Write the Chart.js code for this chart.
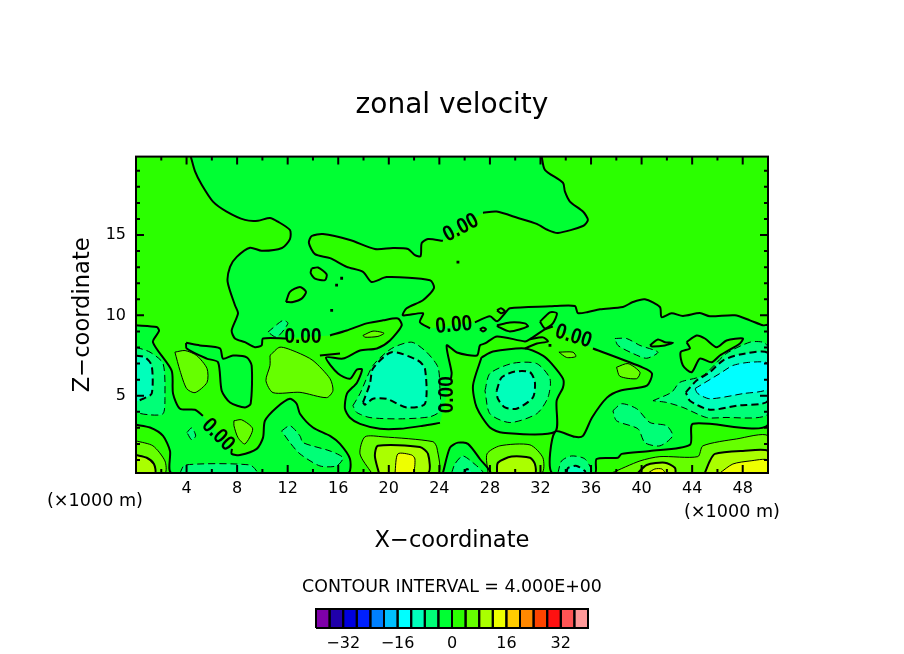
<!DOCTYPE html>
<html>
<head>
<meta charset="utf-8">
<title>zonal velocity</title>
<script src="https://cdn.jsdelivr.net/npm/chart.js@4/dist/chart.umd.js"></script>
<style>
  body { margin: 0; background: #fff; }
  #wrap { position: relative; width: 904px; height: 654px; overflow: hidden; }
  canvas { position: absolute; left: 0; }
  .unit { position: absolute; font: 17.6px "DejaVu Sans"; color: #000; white-space: nowrap; }
</style>
</head>
<body>
<div id="wrap">
  <canvas id="plot" width="904" height="654" style="top:0"></canvas>
  <canvas id="bar" width="904" height="84" style="top:570px"></canvas>
  <div class="unit" style="left:47px;top:490px">(×1000 m)</div>
  <div class="unit" style="left:684px;top:501px">(×1000 m)</div>
</div>
<script>
//// axis values
const xRange = [0, 50];
const zRange = [0.19, 19.88];
const xTickValues = [4, 8, 12, 16, 20, 24, 28, 32, 36, 40, 44, 48];
const xMinorTicks = [2, 6, 10, 14, 18, 22, 26, 30, 34, 38, 42, 46, 50];
const zTickValues = [5, 10, 15];
const zMinorTicks = [1, 2, 3, 4, 6, 7, 8, 9, 11, 12, 13, 14, 16, 17, 18, 19];

//// colour bar
const legendLevels = [-40, -36, -32, -28, -24, -20, -16, -12, -8, -4, 0, 4, 8, 12, 16, 20, 24, 28, 32, 36];
const legendColors = ['#7F00AA', '#2000AA', '#0000DD', '#0020FF', '#0080FF', '#00C0FF', '#00FFFF', '#00FFBB', '#00FF77', '#00FF33',
  '#2BFF00', '#66FF00', '#AAFF00', '#EEFF00', '#FFCC00', '#FF8800', '#FF4400', '#FF1111', '#FF5555', '#FF9999'];
const legendTickValues = [-32, -16, 0, 16, 32];

//// contours, [x, z] in km, null = gap for a line label
const zeroTop = [[4.33,19.9],[4.67,18.96],[5.2,18.13],[6.09,17.08],[7.17,16.46],[8.62,15.94],[9.65,15.89],[10.6,16.06],[11.23,15.83],[12.18,15.31],[12.18,14.75],[11.55,14.19],[9.94,14.02],[9.02,14.21],[7.97,13.64],[7.44,13.02],[7.25,12.08],[7.83,10.63],[8.07,10.13],[7.57,9.06],[7.83,8.56],[8.62,8.33],[9.41,8.02],[9.94,8.13],[10.05,8.56],[11.94,8.56],null,
  [15.35,8.75],[16.67,9.06],[18.25,9.5],[19.54,9.69],[20.72,9.81],[21.02,9.38],[20.09,8.44],[19.06,7.94],[17.72,7.81],[16.37,7.31],[15.03,7.38],[15.98,6.38],[16.93,6.06],[17.48,6.63],[17.88,6.63],[17.48,5.81],[16.69,5.13],[16.53,4.19],[16.93,3.63],[17.72,3.25],[19.3,2.94],[20.88,2.94],[22.7,3.13],[24.05,3.31],null,
  [24.92,6.06],[24.97,6.44],[24.58,8.13],[25.39,7.69],[26.97,7.5],[27.21,8.13],[27.61,8.25],[28.56,8.69],[30.77,8.38],[31.17,8.52],[32.35,9.13],[32.98,9.31],null,
  [36.15,7.94],[40.1,6.75],[40.82,6.38],[40.42,5.63],[38.28,5.31],[37.26,4.88],[36.07,3.63],[35.36,2.5],[34.72,2.44],[33.14,2.75],[32.91,0.19],[36.31,0.19],[36.44,1.06],[38.13,1.14],[38.42,1.38],[40.66,1.56],[43.82,1.94],[44.06,3.25],[50,3.19],[50,9.38],[49.6,9.38],[48.57,9.69],[47.38,10],[45.4,9.94],[44.61,10.14],[43.27,9.96],[42.37,10.13],[41.58,9.89],[41.45,10.52],[40.26,11],[39.31,10.83],[38.52,10.52],[36.7,10.38],[35.75,10.21],[34.96,10.14],[34.72,10.58],[33.14,10.58],[32.75,10.56],[29.58,10.44],[29.19,10.13],[28.56,9.63],[28,9.94],[26.81,9.56],null,
  [23.26,9.19],[22.46,9.58],[22.7,10.13],[21.12,10],[21.41,10.44],[22.7,10.94],[23.57,11.69],[23.26,12.19],[19.83,12.38],[18.64,12.08],[17.96,12.71],[16.67,13.02],[15.35,13.56],[14.16,13.81],[13.68,14.5],[13.9,14.94],[14.79,15.06],[16.93,14.69],[18.9,14.13],[20.33,14.19],[21.52,14.13],[22.07,13.75],[22.52,13.69],[22.6,14.5],[23.1,14.75],[24.28,14.64],null,
  [27.45,16.39],[28.53,16.46],[30.22,16.06],[31.7,15.69],[32.59,15.31],[33.38,15.13],[35.36,15.56],[35.75,15.94],[35.36,16.46],[34.33,17.08],[33.93,17.71],[33.78,18.25],[32.35,19.06],[32.09,19.9]];
const zeroLeft = [[0,9.38],[1.64,9.27],[1.82,9.02],[1.34,8.33],[2.82,6.56],[2.93,5.13],[3.48,4.19],[4.67,4.13],[5.3,3.75],null,
  [7.59,1.69],[7.57,1.38],[8.23,1.31],[9.55,1.69],[10.05,2.39],[10.2,3.44],[11.13,4.27],[12.18,4.81],[12.71,4.5],[12.97,3.88],[14,3.02],[15.35,2.5],[16.14,2],[16.93,1.06],[16.77,0.19],[2.82,0.19],[2.69,1.56],[2.14,2.5],[1.11,3.02],[0,3.19]];
const zeroBox = [[3.96,8.29],[5.06,8.13],[6.64,7.94],[6.88,7.31],[7.67,7.5],[8.76,7.39],[9.15,6.88],[9.07,4.5],[8.62,4.27],[7.44,4.58],[6.78,5.31],[6.49,7.08],[5.59,7.31],[4.01,7.94]];
const zeroCircle = [[27.34,7.39],[28.24,7.75],[30.77,7.94],[32.19,7.5],[32.88,7],[33.78,6.06],[33.78,5.52],[33.28,4.69],[33.14,2.75],[29.03,2.69],[28,3.02],[26.95,4.27],[26.66,5.63]];
const zeroBottom = [[24.28,0.19],[24.84,1.77],[25.47,2.08],[26.26,2],[27.21,1.06],[28,0.19]];
const zeroIsleA = [[13.9,12.92],[14.4,12.98],[15.08,12.56],[14.95,12.19],[14.16,12.29],[13.82,12.64]];
const zeroIsleB = [[11.87,10.83],[12.18,11.46],[12.97,11.77],[13.45,11.46],[13.11,11.04],[12.42,10.83]];
const zeroIsleC = [[43.56,8.33],[44.35,8.75],[45.01,8.56],[45.93,8.02],[46.72,8.44],[48.01,8.56],[47.78,8.25],[46.19,7.5],[45.54,7.08],[44.61,7.31],[43.96,6.46],[43.27,6.88],[43.09,7.71],[43.82,7.94]];
const zeroIsleD = [[40.66,8.13],[41.29,8.5],[41.84,8.33],[42.48,8.29],[41.84,8.13],[40.89,8.06]];
const zeroIsleE = [[31.96,9.61],[32.75,10.19],[33.3,10.13],[32.98,9.5],[32.35,9.19]];
const zeroIsleF = [[28.56,9.38],[29.58,9.56],[30.77,9.5],[31,9.31],[29.58,9],[28.64,9.3]];
const zeroIsleG = [[28.56,10.31],[28.87,10.44],[29.19,10.25],[28.87,10.13]];
const zeroIsleH = [[27.21,9.13],[27.45,9.25],[27.69,9.13],[27.45,9]];
const zeroSpurA = [[31.17,8.52],[32.19,8.63],[32.59,8.38],[31.72,8.25],[30.77,7.94]];
const zeroSpurB = [[14.55,7.5],[16.14,7.63]];
const zeroDots = [[16.27,12.31],[15.87,11.88],[15.48,10.31],[25.47,13.31],[32.75,8.13]];

const posA = [[3.08,7.71],[3.88,7.81],[4.8,7.5],[5.62,6.69],[5.62,5.83],[4.67,5.19],[4.01,5.44],[3.48,6.56]];
const posB = [[10.6,7.5],[11.39,8.02],[12.71,7.71],[14,7.19],[15.35,6.06],[15.58,5.31],[15.08,4.88],[12.97,5.21],[10.84,5.19],[10.28,5.94],[10.6,6.88]];
const posC = [[7.75,3.44],[8.36,3.5],[9.23,2.94],[8.62,2],[8.07,2.39],[7.75,3.13]];
const posD = [[17.96,8.75],[18.75,9.02],[19.62,8.89],[19.14,8.69],[18.11,8.64]];
const posE = [[38.02,6.77],[38.92,7],[39.87,6.46],[39.61,6.06],[38.28,6.21]];
const posF = [[33.46,7.71],[34.57,7.71],[34.8,7.44],[34.07,7.38]];
const cornerFour = [[0,2.19],[1.34,1.88],[2.29,0.94],[2.29,0.19],[0,0.19]];
const cornerEight = [[0,1.31],[0.85,1.14],[1.42,0.75],[1.5,0.19],[0,0.19]];
const centerFour = [[18.64,0.19],[17.72,1.38],[18.11,2.44],[19.54,2.44],[23.49,2.14],[23.81,1.75],[23.89,0.19]];
const centerEight = [[19.22,0.19],[18.9,1.25],[19.14,1.88],[22.46,1.81],[23.1,1.38],[23.1,0.19]];
const centerTwelve = [[20.49,0.19],[20.72,1.38],[21.81,1.31],[22.07,1.06],[21.89,0.19]];
const midFour = [[27.85,0.19],[27.77,1.38],[28.79,1.88],[31.17,1.94],[32.19,1.14],[32.09,0.19]];
const midEight = [[28.56,0.19],[28.63,0.83],[29.72,1.21],[31.17,1.14],[31.56,0.75],[31.56,0.19]];
const rightFour = [[37.63,0.19],[39.87,0.94],[41.45,1.21],[44.45,1.21],[44.85,1.88],[47.52,2.31],[50,2.5],[50,0.19]];
const rightEight = [[45,0.19],[45.4,0.94],[45.8,1.38],[48.01,1.56],[50,1.56],[50,0.19]];
const rightTwelve = [[46.19,0.19],[47.22,0.75],[48.57,0.94],[50,1],[50,0.19]];
const knobEight = [[39.71,0.19],[40.4,0.69],[41.84,0.83],[42.63,0.52],[42.63,0.19]];
const knobTwelve = [[40.5,0.19],[41.05,0.44],[41.6,0.44],[41.84,0.19]];

const negLeftFour = [[0,8.02],[1.11,7.71],[2.14,7],[2.29,4.89],[2.14,3.88],[1.11,3.81],[0,4.06]];
const negLeftEight = [[0,7.5],[0.71,7.39],[1.24,6.88],[1.24,5.13],[0.55,4.81],[0,4.69]];
const negCoreFour = [[17.16,4.38],[17.72,5.13],[18.75,6.88],[20.23,7.94],[21.81,8.33],[22.99,7.71],[23.89,6.77],[24.05,5.31],[24.05,4.06],[23.26,3.69],[20.88,3.56],[18.51,3.64],[17.46,3.96]];
const negCoreEight = [[17.96,4.58],[18.51,5.75],[18.75,6.69],[20.23,7.71],[22.31,7.19],[22.86,6.69],[22.86,4.5],[21.41,4.27],[19.83,4.81],[18.75,4.81],[18.11,4.44]];
const negRingFour = [[27.61,5.31],[28,6.38],[29.82,7.02],[31.7,7],[32.75,6.06],[32.59,4.89],[31.7,3.88],[29.58,3.33],[28,3.88]];
const negRingEight = [[28.53,5.31],[28.93,6.14],[29.98,6.5],[31.17,6.46],[31.56,5.83],[31.4,4.89],[30.11,4.19],[29.19,4.27],[28.63,4.81]];
const negStripFour = [[37.89,8.56],[38.81,8.56],[39.87,8.13],[41.29,7.71],[40.4,7.33],[39.31,7.63],[38.13,8.13]];
const negBoneFour = [[37.73,4.06],[38.42,4.5],[39.61,4.19],[40.66,3.33],[41.98,3.13],[42.45,2.5],[41.45,1.88],[40.26,2.08],[39.71,2.94],[38.02,3.44]];
const negEastFour = [[40.9,4.69],[42.37,5.21],[43.03,5.83],[44.85,6.25],[46.72,7.63],[48.57,8.33],[49.6,8.33],[50,8.02],[50,3.88],[46.43,3.64],[45.14,3.64],[43.27,4.27],[41.98,4.58]];
const negEastEight = [[43.5,5.21],[44.35,5.94],[45.4,6.46],[46.43,7.19],[47.78,7.56],[50,7.64],[50,4.69],[47.52,4.38],[45.4,4.13],[43.82,4.69]];
const negEastTwelve = [[44.22,5.44],[46.19,6.38],[47.22,6.88],[48.57,7.08],[50,7],[50,5.44],[48.01,5.13],[45.4,4.81],[44.45,5.13]];
const negLowFour = [[11.52,2.81],[12.18,3.13],[12.97,2.5],[13.21,2.08],[15.35,1.56],[16.37,1.14],[15.87,0.63],[14.55,0.63],[12.97,1.38],[12.18,2.08]];
const negFloorFour = [[3.48,0.19],[3.88,0.69],[9.02,0.69],[9.55,0.19]];
const negDotFour = [[4.03,2.71],[4.41,3],[4.72,2.5],[4.41,2.25]];
const negFlakeFour = [[10.44,8.96],[11.63,9.69],[12.02,9.5],[11.13,8.64]];
const negPeakFour = [[24.97,0.19],[25.23,0.75],[25.84,1.25],[26.66,0.83],[27.45,0.19]];
const negPeakEight = [[25.95,0.19],[26.18,0.44],[26.58,0.19]];
const negFootFour = [[33.38,0.19],[33.67,0.94],[34.46,1.25],[35.52,1.06],[36.05,0.19]];
const negFootEight = [[34.07,0.19],[34.17,0.5],[34.86,0.63],[35.52,0.31],[35.52,0.19]];

//// "0.00" labels on the zero line
const labelText = '0.00';
const labelX = [13.21, 25.71, 25.15, 34.6, 24.6, 6.49];
const labelZ = [8.63, 15.44, 9.38, 8.69, 5.06, 2.56];
const labelAngle = [0, -28, -5, 17, -90, 45];

//// drawing table: points, fill level, line width, dashed
const cMinus0 = '#00FF33', cZero = '#2BFF00', cFour = '#66FF00', cEight = '#AAFF00', cTwelve = '#EEFF00';
const cMinus4 = '#00FF77', cMinus8 = '#00FFBB', cMinus12 = '#00FFFF';
const contourTable = [
  [zeroTop, cMinus0, 2, false], [zeroLeft, cMinus0, 2, false], [zeroBox, cMinus0, 2, false],
  [zeroCircle, cMinus0, 2, false], [zeroBottom, cMinus0, 2, false],
  [zeroIsleA, cZero, 2, false], [zeroIsleB, cZero, 2, false], [zeroIsleC, cZero, 2, false], [zeroIsleD, cZero, 2, false],
  [zeroIsleE, cZero, 2, false], [zeroIsleF, cZero, 2, false], [zeroIsleG, cZero, 2, false], [zeroIsleH, cZero, 2, false],
  [zeroSpurA, null, 2, false], [zeroSpurB, null, 2, false],
  [posA, cFour, 1, false], [posB, cFour, 1, false], [posC, cFour, 1, false], [posD, cFour, 1, false], [posE, cFour, 1, false], [posF, cFour, 1, false],
  [cornerFour, cFour, 1, false], [cornerEight, cEight, 2, false],
  [centerFour, cFour, 1, false], [centerEight, cEight, 2, false], [centerTwelve, cTwelve, 1, false],
  [midFour, cFour, 1, false], [midEight, cEight, 2, false],
  [rightFour, cFour, 1, false], [rightEight, cEight, 2, false], [rightTwelve, cTwelve, 1, false],
  [knobEight, cEight, 2, false], [knobTwelve, cTwelve, 1, false],
  [negLeftFour, cMinus4, 1, true], [negLeftEight, cMinus8, 2, true],
  [negCoreFour, cMinus4, 1, true], [negCoreEight, cMinus8, 2, true],
  [negRingFour, cMinus4, 1, true], [negRingEight, cMinus8, 2, true],
  [negStripFour, cMinus4, 1, true], [negBoneFour, cMinus4, 1, true],
  [negEastFour, cMinus4, 1, true], [negEastEight, cMinus8, 2, true], [negEastTwelve, cMinus12, 1, true],
  [negLowFour, cMinus4, 1, true], [negFloorFour, cMinus4, 1, true], [negDotFour, cMinus4, 1, true], [negFlakeFour, cMinus4, 1, true],
  [negPeakFour, cMinus4, 1, true], [negPeakEight, cMinus8, 2, true],
  [negFootFour, cMinus4, 1, true], [negFootEight, cMinus8, 2, true]
];

const FONT = 'DejaVu Sans';
Chart.defaults.color = '#000';
Chart.defaults.font.family = FONT;

function toPoints(pts, closed) {
  const out = pts.map(p => p ? { x: p[0], y: p[1] } : { x: null, y: null });
  if (closed) out.push({ x: pts[0][0], y: pts[0][1] });
  return out;
}

// fills each closed contour in table order, under all the lines,
// following the same curve control points the line element uses
const areaFill = {
  id: 'areaFill',
  beforeDatasetsDraw(chart) {
    const { ctx, chartArea: a } = chart;
    ctx.save();
    ctx.beginPath();
    ctx.rect(a.left, a.top, a.right - a.left, a.bottom - a.top);
    ctx.clip();
    if (chart.options.plugins.areaFill.base) {
      ctx.fillStyle = chart.options.plugins.areaFill.base;
      ctx.fillRect(a.left, a.top, a.right - a.left, a.bottom - a.top);
    }
    chart.data.datasets.forEach((ds, i) => {
      if (!ds.areaColor) return;
      ctx.beginPath();
      let prev = null, started = false;
      chart.getDatasetMeta(i).data.forEach(pt => {
        if (pt.skip) { prev = null; return; }
        if (!started) ctx.moveTo(pt.x, pt.y);
        else if (prev && ds.tension) ctx.bezierCurveTo(prev.cp2x, prev.cp2y, pt.cp1x, pt.cp1y, pt.x, pt.y);
        else ctx.lineTo(pt.x, pt.y);
        started = true;
        prev = pt;
      });
      ctx.closePath();
      ctx.fillStyle = ds.areaColor;
      ctx.fill();
    });
    ctx.restore();
  }
};

// frame, inward ticks on all four sides, labels on the zero line
const frameAndLabels = {
  id: 'frameAndLabels',
  afterDatasetsDraw(chart) {
    const { ctx, chartArea: a, scales: { x, y } } = chart;
    ctx.save();
    ctx.strokeStyle = '#000';
    ctx.lineWidth = 2;
    ctx.strokeRect(a.left, a.top, a.right - a.left, a.bottom - a.top);
    const vert = (vals, len) => vals.forEach(v => {
      const px = x.getPixelForValue(v);
      ctx.beginPath();
      ctx.moveTo(px, a.top); ctx.lineTo(px, a.top + len);
      ctx.moveTo(px, a.bottom); ctx.lineTo(px, a.bottom - len);
      ctx.stroke();
    });
    const horiz = (vals, len) => vals.forEach(v => {
      const py = y.getPixelForValue(v);
      ctx.beginPath();
      ctx.moveTo(a.left, py); ctx.lineTo(a.left + len, py);
      ctx.moveTo(a.right, py); ctx.lineTo(a.right - len, py);
      ctx.stroke();
    });
    vert(xTickValues, 8); vert(xMinorTicks, 4);
    horiz(zTickValues, 8); horiz(zMinorTicks, 4);

    ctx.fillStyle = '#000';
    ctx.font = 'bold 20px "Liberation Sans"';
    ctx.textAlign = 'center';
    ctx.textBaseline = 'middle';
    labelX.forEach((v, i) => {
      ctx.save();
      ctx.translate(x.getPixelForValue(v), y.getPixelForValue(labelZ[i]));
      ctx.rotate(labelAngle[i] * Math.PI / 180);
      ctx.scale(0.95, 1.1);
      ctx.fillText(labelText, 0, 0);
      ctx.restore();
    });
    ctx.restore();
  }
};

const datasets = contourTable.map(([pts, color, width, dashed]) => ({
  data: toPoints(pts, color !== null && !pts.includes(null)),
  areaColor: color,
  showLine: true,
  tension: 0.25,
  borderColor: '#000',
  borderWidth: width,
  borderDash: dashed ? [7, 4] : [],
  pointRadius: 0,
  spanGaps: false
}));
datasets.push({
  data: toPoints(zeroDots, false),
  showLine: false,
  pointStyle: 'rect',
  pointRadius: 2,
  backgroundColor: '#000',
  borderWidth: 0
});

new Chart(document.getElementById('plot'), {
  type: 'scatter',
  data: { datasets },
  options: {
    responsive: false,
    animation: false,
    devicePixelRatio: 1,
    plugins: {
      legend: { display: false },
      tooltip: { enabled: false },
      areaFill: { base: cZero },
      title: {
        display: true,
        text: 'zonal velocity',
        font: { size: 28, weight: 'normal' },
        padding: { top: 89, bottom: 34 }
      }
    },
    scales: {
      x: {
        type: 'linear',
        min: xRange[0],
        max: xRange[1],
        afterBuildTicks: s => { s.ticks = xTickValues.map(v => ({ value: v })); },
        afterFit: s => { s.height = 181; },
        grid: { display: false, drawTicks: false },
        border: { display: false },
        ticks: { font: { size: 16 }, padding: 6, maxRotation: 0, autoSkip: false },
        title: { display: true, text: 'X\u2212coordinate', font: { size: 22.6 }, padding: { top: 0, bottom: 99 } }
      },
      y: {
        type: 'linear',
        min: zRange[0],
        max: zRange[1],
        afterBuildTicks: s => { s.ticks = zTickValues.map(v => ({ value: v })); },
        afterFit: s => { s.width = 136; },
        grid: { display: false, drawTicks: false },
        border: { display: false },
        ticks: { font: { size: 16 }, padding: 10 },
        title: { display: true, text: 'Z\u2212coordinate', font: { size: 22.6 }, padding: { top: 70, bottom: 0 } }
      },
      // empty axis on the right only keeps the plot centred under the title
      yRight: {
        type: 'linear',
        position: 'right',
        display: true,
        afterFit: s => { s.width = 136; },
        grid: { display: false, drawTicks: false },
        border: { display: false },
        ticks: { display: false }
      }
    }
  },
  plugins: [areaFill, frameAndLabels]
});

// colour bar underneath, its own small chart
const legendSets = legendLevels.map((lev, i) => ({
  data: toPoints([[lev, 0], [lev + 4, 0], [lev + 4, 1], [lev, 1]], true),
  areaColor: legendColors[i],
  showLine: true,
  clip: false,
  borderColor: '#000',
  borderWidth: 2,
  pointRadius: 0
}));

new Chart(document.getElementById('bar'), {
  type: 'scatter',
  data: { datasets: legendSets },
  options: {
    responsive: false,
    animation: false,
    devicePixelRatio: 1,
    plugins: {
      legend: { display: false },
      tooltip: { enabled: false },
      areaFill: {},
      title: {
        display: true,
        text: 'CONTOUR INTERVAL = 4.000E+00',
        font: { size: 17.4, weight: 'normal' },
        padding: { top: 7, bottom: 11 }
      }
    },
    scales: {
      x: {
        type: 'linear',
        min: -40,
        max: 40,
        afterBuildTicks: s => { s.ticks = legendTickValues.map(v => ({ value: v })); },
        afterFit: s => { s.height = 26; },
        grid: { display: false, drawTicks: false },
        border: { display: false },
        ticks: { font: { size: 16 }, padding: 6, maxRotation: 0, autoSkip: false, callback: v => String(v).replace('-', '\u2212') }
      },
      y: {
        type: 'linear',
        min: 0,
        max: 1,
        afterFit: s => { s.width = 316; },
        grid: { display: false, drawTicks: false },
        border: { display: false },
        ticks: { display: false }
      },
      yRight: {
        type: 'linear',
        position: 'right',
        display: true,
        afterFit: s => { s.width = 316; },
        grid: { display: false, drawTicks: false },
        border: { display: false },
        ticks: { display: false }
      }
    }
  },
  plugins: [areaFill]
});
</script>
</body>
</html>
